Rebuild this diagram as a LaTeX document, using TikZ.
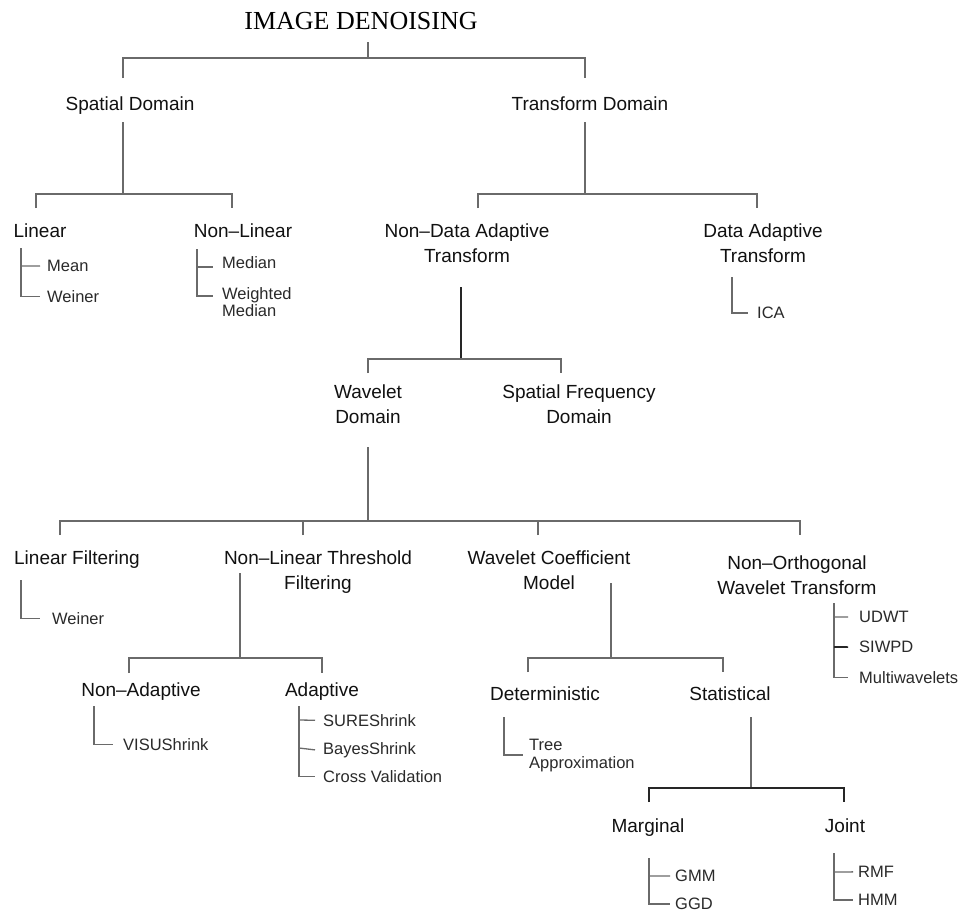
\documentclass[tikz,border=0pt]{standalone}
\usepackage{fontspec}
\setmainfont{Liberation Sans}
\newfontfamily\titlefont{Liberation Serif}
\definecolor{lngray}{HTML}{6A6A6A}
\definecolor{txt}{HTML}{111111}
\definecolor{txtsmall}{HTML}{2A2A2A}
\begin{document}
\begin{tikzpicture}[x=1pt,y=-1pt,
  ln/.style={draw=lngray,line width=1.3pt},
  lnd/.style={draw=black!85,line width=1.6pt},
  big/.style={inner sep=0pt,anchor=north,align=center,text=txt,font=\fontsize{19}{25}\selectfont},
  small/.style={inner sep=0pt,anchor=north west,align=left,text=txtsmall,font=\fontsize{16.5}{17.5}\selectfont},
  ttl/.style={inner sep=0pt,anchor=north,text=black,font=\titlefont\fontsize{26}{30}\selectfont}]
\fill[white] (0,0) rectangle (960,913);
\useasboundingbox (0,0) rectangle (960,913);

% ---------- nodes ----------
\node[ttl] (title) at (361,12) {IMAGE DENOISING};
\node[big] (spatial) at (130,97) {Spatial Domain};
\node[big] (transform) at (590,97) {Transform Domain};
\node[big] (linear) at (40,224) {Linear};
\node[big] (nonlinear) at (243,224) {Non–Linear};
\node[big] (nda) at (467,224) {Non–Data Adaptive\\Transform};
\node[big] (da) at (763,224) {Data Adaptive\\Transform};
\node[big] (wavelet) at (368,385) {Wavelet\\Domain};
\node[big] (sfd) at (579,385) {Spatial Frequency\\Domain};
\node[big] (linfilt) at (77,551) {Linear Filtering};
\node[big] (nlt) at (318,551) {Non–Linear Threshold\\Filtering};
\node[big] (wcm) at (549,551) {Wavelet Coefficient\\Model\hspace{20pt}};
\node[big] (nowt) at (797,556) {Non–Orthogonal\\Wavelet Transform};
\node[big] (nonad) at (141,683) {Non–Adaptive};
\node[big] (adapt) at (322,683) {Adaptive};
\node[big] (determ) at (545,687) {Deterministic};
\node[big] (stat) at (730,687) {Statistical};
\node[big] (marg) at (648,819) {Marginal};
\node[big] (joint) at (845,819) {Joint};

\node[small] (mean) at (47,260) {Mean};
\node[small] (weinA) at (47,290) {Weiner};
\node[small] (median) at (222,256) {Median};
\node[small] (wmedian) at (222,287) {Weighted\\Median};
\node[small] (ica) at (757,307) {ICA};
\node[small] (weinB) at (52,612) {Weiner};
\node[small] (visu) at (123,738) {VISUShrink};
\node[small] (sure) at (323,714) {SUREShrink};
\node[small] (bayes) at (323,742) {BayesShrink};
\node[small] (cross) at (323,770) {Cross Validation};
\node[small,font=\fontsize{16.5}{18}\selectfont] (tree) at (529,739) {Tree\\Approximation};
\node[small] (udwt) at (859,611) {UDWT};
\node[small] (siwpd) at (859,641) {SIWPD};
\node[small] (multi) at (859,671) {Multiwavelets};
\node[small] (gmm) at (675,870) {GMM};
\node[small] (ggd) at (675,898) {GGD};
\node[small] (rmf) at (858,866) {RMF};
\node[small] (hmm) at (858,894) {HMM};

% ---------- junction coordinates ----------
\coordinate (t0) at (368,42);
\coordinate (tL) at (123,78);
\coordinate (tR) at (585,78);
\coordinate (s0) at (123,122);
\coordinate (sL) at (36,208);
\coordinate (sR) at (232,208);
\coordinate (r0) at (585,122);
\coordinate (rL) at (478,208);
\coordinate (rR) at (757,208);
\coordinate (n0) at (461,287);
\coordinate (nL) at (368,373);
\coordinate (nR) at (561,373);
\coordinate (w0) at (368,447);
\coordinate (w1) at (60,535);
\coordinate (w2) at (303,535);
\coordinate (w3) at (538,535);
\coordinate (w4) at (800,535);
\coordinate (l0) at (240,573);
\coordinate (lL) at (129,673);
\coordinate (lR) at (322,673);
\coordinate (c0) at (611,583);
\coordinate (cL) at (528,672);
\coordinate (cR) at (723,672);
\coordinate (q0) at (751,717);
\coordinate (qL) at (649,802);
\coordinate (qR) at (844,802);

% ---------- tree connectors ----------
\draw[ln] (t0) -- (368,58);
\draw[ln] (tL) |- (tR |- 0,58) -- (tR);
\draw[ln] (s0) -- (123,194);
\draw[ln] (sL) |- (sR |- 0,194) -- (sR);
\draw[ln] (r0) -- (585,194);
\draw[ln] (rL) |- (rR |- 0,194) -- (rR);
\draw[lnd] (n0) -- (461,359);
\draw[ln] (nL) |- (nR |- 0,359) -- (nR);
\draw[ln] (w0) -- (368,521);
\draw[ln] (w1) |- (w4 |- 0,521) -- (w4);
\draw[ln] (w2) -- (w2 |- 0,521);
\draw[ln] (w3) -- (w3 |- 0,521);
\draw[ln] (l0) -- (240,658);
\draw[ln] (lL) |- (lR |- 0,658) -- (lR);
\draw[ln] (c0) -- (611,658);
\draw[ln] (cL) |- (cR |- 0,658) -- (cR);
\draw[ln] (q0) -- (751,788);
\draw[lnd] (qL) |- (qR |- 0,788) -- (qR);

% ---------- list brackets ----------
\draw[ln] (21,248) |- ([xshift=-7pt]weinA.west);
\draw[ln] (21,266) -- ([xshift=-7pt]mean.west);
\draw[ln] (197,249) |- (213,296);
\draw[ln] (197,267) -- (213,267);
\draw[ln] (732,277) |- ([xshift=-9pt]ica.west);
\draw[ln] (21,580) |- ([xshift=-12pt]weinB.west);
\draw[ln] (94,706) |- ([xshift=-10pt]visu.west);
\draw[ln] (299,706) |- ([xshift=-8pt]cross.west);
\draw[ln] (299,720) -- ([xshift=-8pt]sure.west);
\draw[ln] (299,748) -- ([xshift=-8pt]bayes.west);
\draw[ln] (504,717) |- (523,755);
\draw[ln] (834,603) |- ([xshift=-11pt]multi.west);
\draw[ln] (834,617) -- ([xshift=-11pt]udwt.west);
\draw[lnd] (834,647) -- ([xshift=-11pt]siwpd.west);
\draw[ln] (649,858) |- ([xshift=-5pt]ggd.west);
\draw[ln] (649,876) -- ([xshift=-5pt]gmm.west);
\draw[ln] (834,853) |- ([xshift=-5pt]hmm.west);
\draw[ln] (834,872) -- ([xshift=-5pt]rmf.west);
\end{tikzpicture}
\end{document}
